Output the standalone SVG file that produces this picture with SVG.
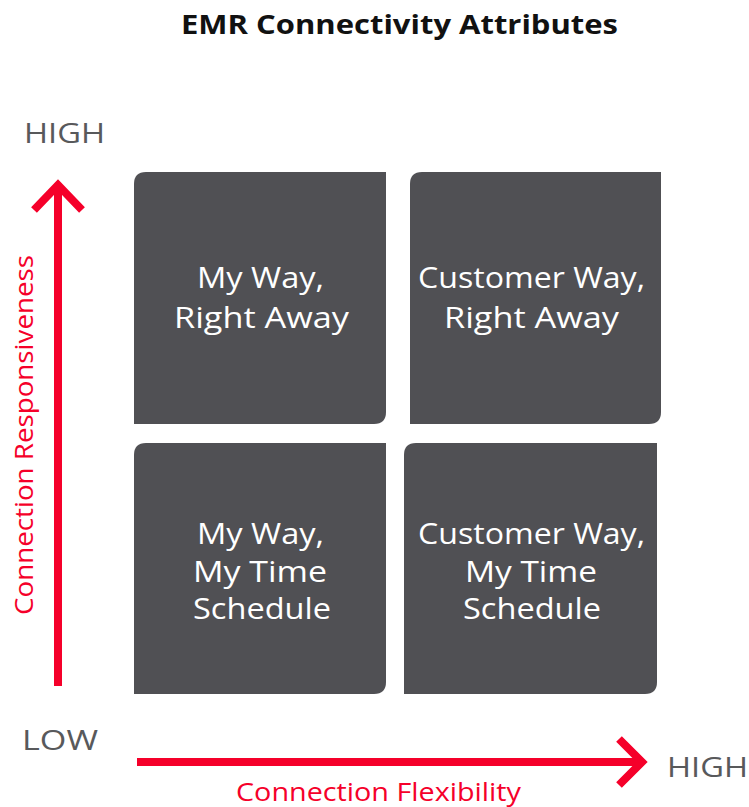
<svg xmlns="http://www.w3.org/2000/svg" width="749" height="807" viewBox="0 0 749 807">
<style>
text{font-family:"Open Sans",Lato,sans-serif}
.box{fill:#505054}
.bt{font-size:29px;font-weight:500;fill:#ffffff;text-anchor:middle}
.ax{font-size:28px;fill:#58595b}
.rl{font-size:25px;font-weight:500;fill:#f5002a;text-anchor:middle}
.ar{stroke:#f5002a;stroke-width:8;fill:none}
</style>
<rect width="749" height="807" fill="#ffffff"/>
<text x="399.5" y="34" font-size="27" font-weight="bold" fill="#111111" text-anchor="middle" textLength="437" lengthAdjust="spacingAndGlyphs">EMR Connectivity Attributes</text>
<g id="n1">
<path class="box" d="M146,172 H386 V412 Q386,424 374,424 H134 V184 Q134,172 146,172 Z"/>
<text class="bt" x="260.5" y="288" textLength="127" lengthAdjust="spacingAndGlyphs">My Way,</text>
<text class="bt" x="261.5" y="328" textLength="175" lengthAdjust="spacingAndGlyphs">Right Away</text>
</g>
<g id="n2">
<path class="box" d="M422,172 H661 V412 Q661,424 649,424 H410 V184 Q410,172 422,172 Z"/>
<text class="bt" x="531.5" y="288" textLength="227" lengthAdjust="spacingAndGlyphs">Customer Way,</text>
<text class="bt" x="531.5" y="328" textLength="175" lengthAdjust="spacingAndGlyphs">Right Away</text>
</g>
<g id="n3">
<path class="box" d="M146,443 H386 V682 Q386,694 374,694 H134 V455 Q134,443 146,443 Z"/>
<text class="bt" x="260.5" y="544" textLength="127" lengthAdjust="spacingAndGlyphs">My Way,</text>
<text class="bt" x="260" y="582" textLength="134" lengthAdjust="spacingAndGlyphs">My Time</text>
<text class="bt" x="262" y="619" textLength="138" lengthAdjust="spacingAndGlyphs">Schedule</text>
</g>
<g id="n4">
<path class="box" d="M416,443 H657 V682 Q657,694 645,694 H404 V455 Q404,443 416,443 Z"/>
<text class="bt" x="531.5" y="544" textLength="227" lengthAdjust="spacingAndGlyphs">Customer Way,</text>
<text class="bt" x="531" y="582" textLength="132" lengthAdjust="spacingAndGlyphs">My Time</text>
<text class="bt" x="532" y="619" textLength="138" lengthAdjust="spacingAndGlyphs">Schedule</text>
</g>
<g id="connectors">
<line class="ar" x1="58" y1="686" x2="58" y2="184"/>
<polyline class="ar" points="34,210 58,185 82,210"/>
<line class="ar" x1="137" y1="762" x2="641" y2="762"/>
<polyline class="ar" points="619,739 642,762 619,785"/>
</g>
<text class="ax" x="24" y="143" textLength="81" lengthAdjust="spacingAndGlyphs">HIGH</text>
<text class="ax" x="22" y="750" textLength="76" lengthAdjust="spacingAndGlyphs">LOW</text>
<text class="ax" x="667" y="777" textLength="81" lengthAdjust="spacingAndGlyphs">HIGH</text>
<text class="rl" x="378.5" y="801" textLength="285" lengthAdjust="spacingAndGlyphs">Connection Flexibility</text>
<text class="rl" transform="translate(33,435) rotate(-90)" textLength="360" lengthAdjust="spacingAndGlyphs">Connection Responsiveness</text>
</svg>
